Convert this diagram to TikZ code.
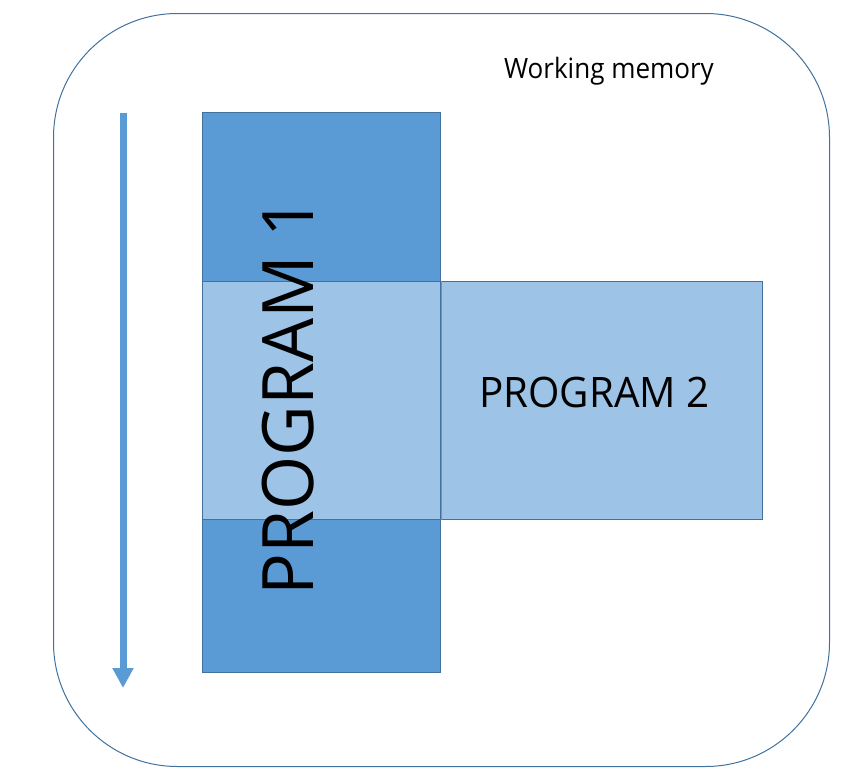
\documentclass[tikz,border=0pt]{standalone}
\usepackage{fontspec}
\setmainfont{Open Sans}
\usetikzlibrary{arrows.meta}

\definecolor{progdark}{HTML}{5B9BD5}
\definecolor{proglight}{HTML}{9DC3E6}
\definecolor{progedge}{HTML}{41719C}

\begin{document}
\begin{tikzpicture}[x=1pt, y=-1pt]

        \tikzset{
          block/.style={rectangle, draw=progedge, line width=1.2pt, inner sep=0pt, anchor=north west},
          label/.style={inner sep=0pt, text=black}
        }

        \useasboundingbox (0, 0) rectangle (868, 779);

        % working memory frame
        \node[rectangle, rounded corners=124pt, draw=progedge, line width=1pt,
              minimum width=776pt, minimum height=753pt, anchor=north west]
              (mem) at (53, 13) {};
        \node[label, anchor=base, xscale=0.93, font=\fontsize{28}{28}\selectfont] (memlabel) at (609, 78) {Working memory};

        % program 1, the tall block
        \node[block, fill=progdark, minimum width=238pt, minimum height=560pt] (p1) at (202, 112) {};

        % program 2, to the right, and the shared part
        \node[block, fill=proglight, minimum width=322pt, minimum height=238pt] (p2) at (440, 281) {};
        \node[block, fill=proglight, minimum width=238pt, minimum height=238pt] (shared) at (202, 281) {};
        \draw[progdark, line width=1.2pt] (shared.north east) -- (shared.south east);

        % labels
        \node[label, anchor=base, xscale=0.96, font=\fontsize{42}{42}\selectfont] (p2label) at (594.5, 407) {PROGRAM 2};
        \node[label, anchor=base, rotate=90, xscale=0.98, font=\fontsize{71}{71}\selectfont] (p1label) at (313, 396.5) {PROGRAM 1};

        % time arrow
        \coordinate (start) at (123, 113);
        \coordinate (stop) at (123, 688);
        \draw[progdark, line width=7pt, -{Triangle[width=20pt, length=20pt]}] (start) -- (stop);

\end{tikzpicture}
\end{document}
